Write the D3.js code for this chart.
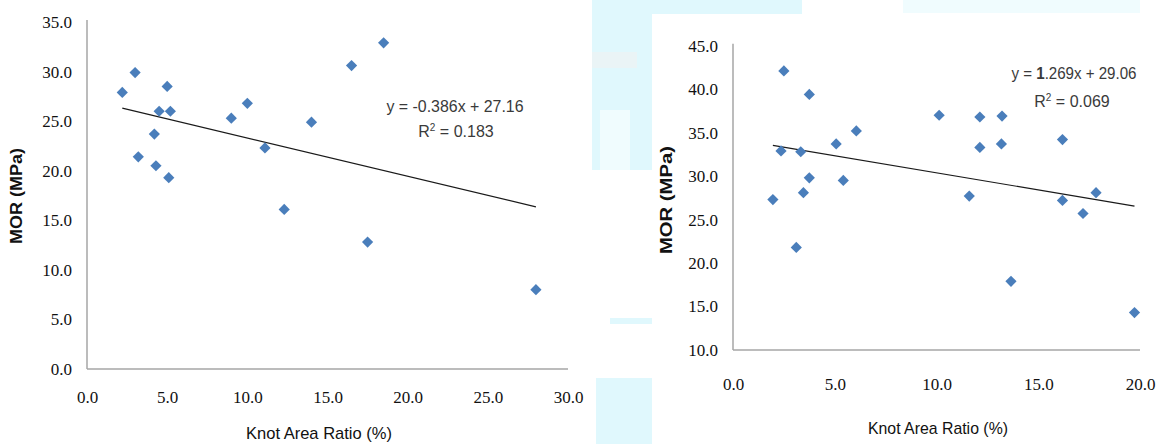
<!DOCTYPE html>
<html>
<head>
<meta charset="utf-8">
<script src="https://cdn.jsdelivr.net/npm/d3@7"></script>
<style>
  html, body { margin: 0; padding: 0; background: #ffffff; }
  svg { display: block; }
  .tick text { font-family: 'Liberation Serif', 'DejaVu Serif', serif; }
</style>
</head>
<body>
<svg id="chart" width="1164" height="444"></svg>
<script>
// ---------- DATA ----------
// Left panel: knot area ratio (%) vs MOR (MPa)
const leftX = [2.2, 3.0, 5.0, 4.5, 5.2, 4.2, 3.2, 4.3, 5.1, 9.0, 10.0, 11.1, 12.3, 14.0, 16.5, 18.5, 17.5, 28.0];
const leftY = [27.9, 29.9, 28.5, 26.0, 26.0, 23.7, 21.4, 20.5, 19.3, 25.3, 26.8, 22.3, 16.1, 24.9, 30.6, 32.9, 12.8, 8.0];
const leftTrend = [-0.386, 27.16];             // slope, intercept
const leftXTicks = [0, 5, 10, 15, 20, 25, 30];
const leftYTicks = [0, 5, 10, 15, 20, 25, 30, 35];
const leftEq = ["y = -0.386x + 27.16", "0.183"];

// Right panel
const rightX = [2.5, 3.75, 2.36, 3.33, 1.96, 3.75, 3.46, 3.11, 5.07, 5.42, 6.06, 10.13, 12.13, 13.22, 12.13, 13.19, 11.61, 13.66, 16.19, 16.19, 17.2, 17.84, 19.73];
const rightY = [42.1, 39.4, 32.9, 32.8, 27.3, 29.8, 28.1, 21.8, 33.7, 29.5, 35.2, 37.0, 36.8, 36.9, 33.3, 33.7, 27.7, 17.9, 34.2, 27.2, 25.7, 28.1, 14.3];
const rightTrend = [-0.393, 34.31];            // slope, intercept (as drawn)
const rightXTicks = [0, 5, 10, 15, 20];
const rightYTicks = [10, 15, 20, 25, 30, 35, 40, 45];
const rightEq = ["1", ".269x + 29.06", "0.069"];

const xTitle = "Knot Area Ratio (%)";
const yTitle = "MOR (MPa)";

// ---------- DRAW ----------
const svg = d3.select("#chart");
const fmt = d3.format(".1f");
const markerColor = "#4a7ebb";
const axisColor = "#a6a6a6";

// background artefacts (light cyan blocks of the source scan)
const bg = svg.append("g");
const cyan = "#e0f8fd";
[[592, 0, 60, 15], [652, 0, 150, 14], [592, 15, 60, 155], [610, 318, 42, 6], [596, 378, 56, 66]]
  .forEach(r => bg.append("rect").attr("x", r[0]).attr("y", r[1]).attr("width", r[2]).attr("height", r[3]).attr("fill", cyan));
bg.append("rect").attr("x", 903).attr("y", 0).attr("width", 237).attr("height", 13).attr("fill", "#f0fcfe");
bg.append("rect").attr("x", 592).attr("y", 52).attr("width", 45).attr("height", 16).attr("fill", "#eaf4f6");
bg.append("rect").attr("x", 600).attr("y", 110).attr("width", 30).attr("height", 60).attr("fill", "#ffffff").attr("opacity", 0.5);
bg.append("rect").attr("x", 652).attr("y", 15).attr("width", 512).attr("height", 429).attr("fill", "#ffffff");

function panel(cfg) {
  const g = svg.append("g");
  const x = d3.scaleLinear().domain(cfg.xDomain).range(cfg.xRange);
  const y = d3.scaleLinear().domain(cfg.yDomain).range(cfg.yRange);

  const xAxis = d3.axisBottom(x).tickValues(cfg.xTicks).tickSize(0).tickFormat(fmt).tickPadding(cfg.xPad);
  const yAxis = d3.axisLeft(y).tickValues(cfg.yTicks).tickSize(0).tickFormat(fmt).tickPadding(15);

  const gx = g.append("g").attr("transform", `translate(0,${cfg.yRange[0]})`).call(xAxis);
  const gy = g.append("g").attr("transform", `translate(${cfg.xRange[0]},0)`).call(yAxis);
  gx.select(".domain").attr("stroke", axisColor).attr("stroke-width", 1.5).attr("d", `M${cfg.xRange[0]},0H${cfg.xRange[1]}`);
  gy.select(".domain").attr("stroke", axisColor).attr("stroke-width", 1.5).attr("d", `M0,${cfg.yRange[0]}V${cfg.yRange[1] - 2}`);
  [gx, gy].forEach(a => {
    a.attr("font-family", "'Liberation Serif', 'DejaVu Serif', serif").attr("font-size", 17);
    a.selectAll("text")
      .style("font-family", "'Liberation Serif', 'DejaVu Serif', serif")
      .style("font-size", "17px").attr("fill", "#111");
  });

  // trend line
  const x0 = d3.min(cfg.xs), x1 = d3.max(cfg.xs);
  const line = d3.line().x(d => x(d)).y(d => y(cfg.trend[0] * d + cfg.trend[1]));
  g.append("path").datum([x0, x1]).attr("d", line)
    .attr("stroke", "#1a1a1a").attr("stroke-width", 1.2).attr("fill", "none");

  // diamonds
  const diamond = "M0,-5.6L5.6,0L0,5.6L-5.6,0Z";
  g.selectAll("path.pt").data(cfg.xs.map((v, i) => [v, cfg.ys[i]])).enter()
    .append("path").attr("class", "pt").attr("d", diamond)
    .attr("transform", d => `translate(${x(d[0])},${y(d[1])})`)
    .attr("fill", markerColor);

  // titles
  g.append("text").attr("x", cfg.xTitlePos[0]).attr("y", cfg.xTitlePos[1])
    .attr("text-anchor", "middle").attr("font-family", "'Liberation Sans', Arial, sans-serif")
    .attr("font-size", 17).attr("fill", "#111")
    .attr("textLength", cfg.xTitleLen).attr("lengthAdjust", "spacingAndGlyphs")
    .text(xTitle);
  g.append("text").attr("transform", `translate(${cfg.yTitlePos[0]},${cfg.yTitlePos[1]}) rotate(-90)`)
    .attr("text-anchor", "middle").attr("font-family", "'Liberation Sans', Arial, sans-serif")
    .attr("font-size", 16).attr("font-weight", "bold").attr("fill", "#111")
    .attr("textLength", cfg.yTitleLen).attr("lengthAdjust", "spacingAndGlyphs")
    .text(yTitle);

  // equation
  const eq = g.append("text").attr("x", cfg.eqPos[0]).attr("y", cfg.eqPos[1])
    .attr("text-anchor", "middle").attr("font-family", "'Liberation Sans', Arial, sans-serif")
    .attr("font-size", 16).attr("fill", "#3a3a3a")
    .attr("textLength", cfg.eqLen).attr("lengthAdjust", "spacingAndGlyphs");
  cfg.eqParts(eq);
  const r2 = g.append("text").attr("x", cfg.r2Pos[0]).attr("y", cfg.r2Pos[1])
    .attr("text-anchor", "middle").attr("font-family", "'Liberation Sans', Arial, sans-serif")
    .attr("font-size", 16).attr("fill", "#3a3a3a");
  r2.append("tspan").text("R");
  r2.append("tspan").attr("dy", -6).attr("font-size", 10).text("2");
  r2.append("tspan").attr("dy", 6).text(" = " + cfg.r2);
}

panel({
  xs: leftX, ys: leftY, trend: leftTrend,
  xDomain: [0, 30], xRange: [87, 568],
  yDomain: [0, 35], yRange: [369, 22],
  xTicks: leftXTicks, yTicks: leftYTicks, xPad: 22,
  xTitlePos: [319, 439], xTitleLen: 146,
  yTitlePos: [22, 196], yTitleLen: 96,
  eqPos: [455, 112], eqLen: 137,
  eqParts: t => t.text(leftEq[0]),
  r2Pos: [456, 137], r2: leftEq[1]
});

panel({
  xs: rightX, ys: rightY, trend: rightTrend,
  xDomain: [0, 20], xRange: [733, 1140],
  yDomain: [10, 45], yRange: [350, 45.7],
  xTicks: rightXTicks, yTicks: rightYTicks, xPad: 28,
  xTitlePos: [938, 434], xTitleLen: 140,
  yTitlePos: [672, 200], yTitleLen: 108,
  eqPos: [1074, 79], eqLen: 125,
  eqParts: t => { t.append("tspan").text("y = "); t.append("tspan").attr("font-weight", "bold").text(rightEq[0]); t.append("tspan").text(rightEq[1]); },
  r2Pos: [1072, 107], r2: rightEq[2]
});
</script>
</body>
</html>
